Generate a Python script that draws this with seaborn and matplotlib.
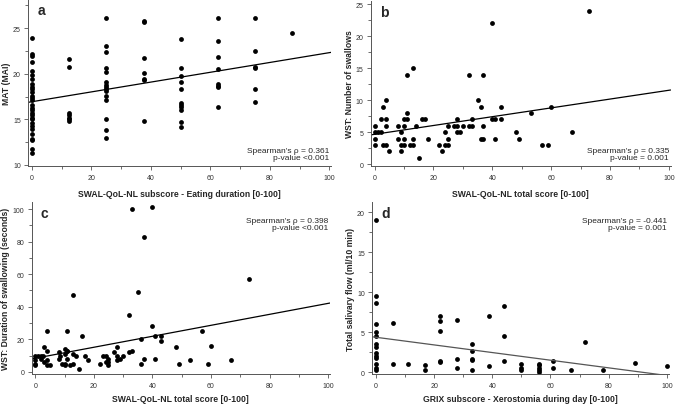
import numpy as np
import pandas as pd
import seaborn as sns
import matplotlib.pyplot as plt
from matplotlib.ticker import MultipleLocator

# panel a: SWAL-QoL eating duration vs MAT
a_x = [0] * 29 + [12.5] * 7 + [25] * 15 + [37.5] * 7 + [50] * 11 + [62.5] * 8 + [75] * 6 + [87.5]
a_y = [23.9, 22.2, 21.9, 21.3, 20.3, 19.9, 19.4, 18.9, 18.6, 18.3, 18.0, 17.6, 17.3, 17.1, 16.6,
       16.2, 16.0, 15.7, 15.5, 15.2, 15.0, 14.6, 14.3, 13.9, 13.4, 12.9, 12.7, 11.8, 11.3,
       21.6, 20.7, 15.7, 15.5, 15.2, 15.0, 14.8,
       26.1, 23.0, 22.4, 20.6, 20.2, 19.1, 18.8, 18.5, 18.3, 18.1, 17.6, 17.1, 15.0, 13.8, 13.0,
       25.8, 25.7, 21.7, 20.1, 19.4, 19.3, 14.8,
       23.8, 20.6, 19.8, 19.1, 18.3, 16.8, 16.6, 16.4, 16.0, 14.7, 14.2,
       26.1, 23.6, 21.8, 20.5, 18.9, 18.7, 18.5, 16.4,
       26.1, 22.5, 20.7, 20.6, 18.3, 16.9,
       24.5]

# panel b: SWAL-QoL total vs number of swallows
b_x = [0, 0, 0, 0, 1, 2, 2, 3, 3, 4, 4, 4, 4, 5, 8, 8, 9, 9, 9, 10, 10, 10, 10, 11, 11, 11,
       12, 13, 13, 13, 14, 15, 16, 17, 18, 22, 23, 24, 24, 25, 25, 25, 27, 28, 28, 28, 29, 30,
       32, 32, 33, 33, 35, 36, 36, 37, 37, 37, 40, 40, 41, 41, 43, 43, 48, 49, 53, 57, 59, 60,
       67, 73]
b_y = [6, 5, 4, 3, 5, 5, 7, 9, 3, 10, 7, 6, 3, 2, 6, 4, 5, 3, 2, 7, 6, 4, 3, 7, 8, 14,
       3, 4, 3, 15, 6, 1, 7, 7, 4, 3, 2, 5, 3, 4, 3, 6, 6, 7, 6, 5, 5, 6,
       14, 6, 6, 7, 10, 9, 4, 4, 14, 6, 22, 7, 7, 4, 9, 7, 5, 4, 8, 3, 3, 9,
       5, 24]

# panel c: SWAL-QoL total vs duration of swallowing
c_x = [0, 0, 0, 0, 1, 2, 2, 2.5, 3, 3, 4, 4, 4, 4, 5, 8, 8, 8.5, 9, 10, 10, 10, 10, 11, 11,
       11, 11, 12, 13, 13, 13, 14, 15, 16, 17, 18, 22, 23, 24, 24, 25, 25, 25, 27, 28, 28, 28,
       29, 30, 32, 32, 33, 33, 35, 36, 36, 37, 37, 40, 40, 41, 41, 43, 43, 48, 49, 53, 57, 59,
       60, 67, 73]
c_y = [10, 7, 5, 4, 10, 10, 8, 10, 15, 6, 25, 13, 7, 4, 4, 12, 8, 10, 5, 4, 5, 11, 14, 13, 8,
       25, 13, 4, 5, 47, 11, 10, 2, 22, 10, 7, 5, 10, 10, 6, 8, 6, 4, 12, 15, 10, 7,
       8, 10, 35, 12, 13, 100, 49, 5, 20, 83, 8, 101, 28, 22, 8, 22, 19, 15, 5, 7, 25, 5,
       16, 7, 57]

# panel d: GRIX xerostomia vs total salivary flow
d_x = [0] * 14 + [6, 6, 11, 17, 17, 22, 22, 22, 22, 22, 28, 28, 28, 33, 33, 33, 33, 33,
                  39, 39, 44, 44, 44, 50, 50, 50, 56, 56, 56, 56, 56, 61, 61, 67, 72, 78, 89, 100]
d_y = [19.0, 9.6, 8.7, 6.0, 5.1, 4.6, 3.5, 3.2, 2.4, 2.1, 1.8, 1.0, 0.6, 0.3,
       6.2, 1.1, 1.0, 0.9, 0.3, 7.0, 6.4, 5.2, 1.4, 1.3, 6.5, 1.7, 0.5, 3.5, 2.7, 1.7, 1.5, 0.3,
       7.1, 0.8, 8.3, 4.6, 1.4, 1.0, 0.6, 0.3, 1.1, 0.9, 0.6, 0.3, 0.1, 1.4, 0.6, 0.3, 3.8, 0.3,
       1.2, 0.8]

sns.set_style('ticks')
plt.rcParams['font.family'] = ['Liberation Sans', 'DejaVu Sans']

fig = plt.figure(figsize=(6.76, 4.06), dpi=100)

panels = [
    # x, y, letter, xlabel, ylabel, rect, ylim, ymajor, stats text, text at top?, line colour
    (a_x, a_y, 'a', 'SWAL-QoL-NL subscore - Eating duration [0-100]', 'MAT (MAI)',
     [0.042, 0.589, 0.448, 0.411], (9.9, 28.2), 5, "Spearman's ρ = 0.361\np-value <0.001", False, 'black'),
    (b_x, b_y, 'b', 'SWAL-QoL-NL total score [0-100]', 'WST: Number of swallows',
     [0.549, 0.589, 0.443, 0.406], (-0.26, 25.5), 5, "Spearman's ρ = 0.335\np-value = 0.001", False, 'black'),
    (c_x, c_y, 'c', 'SWAL-QoL-NL total score [0-100]', 'WST: Duration of swallowing (seconds)',
     [0.047, 0.076, 0.441, 0.424], (-1.4, 104.3), 20, "Spearman's ρ = 0.398\np-value <0.001", True, 'black'),
    (d_x, d_y, 'd', 'GRIX subscore - Xerostomia during day [0-100]', 'Total salivary flow (ml/10 min)',
     [0.551, 0.076, 0.438, 0.424], (-0.22, 21.3), 5, "Spearman's ρ = -0.441\np-value = 0.001", True, '#555555'),
]

for x, y, letter, xlab, ylab, rect, ylim, ymaj, stats, top, lc in panels:
    ax = fig.add_axes(rect)
    df = pd.DataFrame({'x': x, 'y': y})
    ax.set_xlim(-1.2, 100.6)
    ax.set_ylim(*ylim)
    sns.regplot(data=df, x='x', y='y', ax=ax, ci=None, truncate=False,
                scatter_kws={'s': 12, 'color': 'black', 'linewidths': 0, 'alpha': 1},
                line_kws={'color': lc, 'lw': 0.9})
    ax.set_xlim(-1.2, 100.6)
    ax.set_ylim(*ylim)
    ax.xaxis.set_major_locator(MultipleLocator(20))
    ax.xaxis.set_minor_locator(MultipleLocator(10))
    ax.yaxis.set_major_locator(MultipleLocator(ymaj))
    ax.yaxis.set_minor_locator(MultipleLocator(ymaj / 2))
    ax.tick_params(which='major', length=3, width=0.6, color='#555555', labelsize=5, labelcolor='#333333', pad=2.5)
    ax.tick_params(which='minor', length=2, width=0.6, color='#555555')
    for s in ['left', 'bottom']:
        ax.spines[s].set_linewidth(0.7)
        ax.spines[s].set_color('#555555')
    sns.despine(ax=ax)
    ax.set_xlabel(xlab, fontsize=6.2, fontweight='bold', labelpad=6 if not top else 4)
    ax.set_ylabel(ylab, fontsize=6.2, fontweight='bold', labelpad=1.5)
    ax.text(0.03, 0.975, letter, transform=ax.transAxes, fontsize=10, fontweight='bold', va='top')
    if top:
        ax.text(0.995, 0.91, stats, transform=ax.transAxes, fontsize=6, ha='right', va='top', linespacing=0.95)
    else:
        ax.text(0.995, 0.03, stats, transform=ax.transAxes, fontsize=6, ha='right', va='bottom', linespacing=0.95)

fig.savefig('out.png', dpi=100)
